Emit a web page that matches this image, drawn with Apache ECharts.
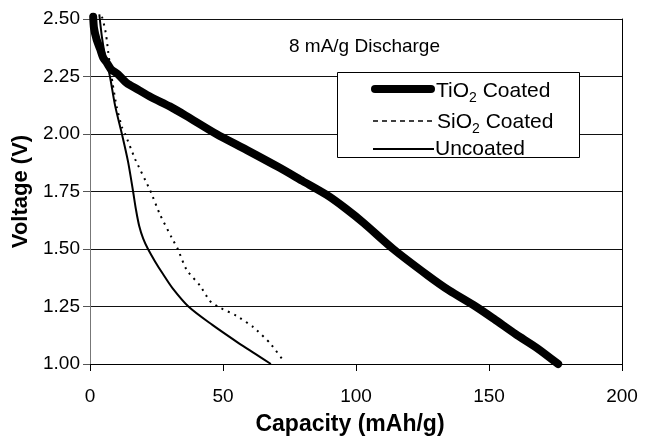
<!DOCTYPE html>
<html>
<head>
<meta charset="utf-8">
<script src="https://cdn.jsdelivr.net/npm/echarts@6/dist/echarts.min.js"></script>
<style>
html,body{margin:0;padding:0;background:#fff;}
#c{width:650px;height:441px;}
</style>
</head>
<body>
<div id="c"></div>
<script>
// ---- data ----
var xTicks = [0, 50, 100, 150, 200];
var yTicks = ['1.00', '1.25', '1.50', '1.75', '2.00', '2.25', '2.50'];

var tio2Cap = [1.2, 1.5, 2.5, 3.8, 5, 6.3, 8, 10.5, 14, 17, 23, 30, 36, 47.5, 59, 71, 80, 89, 96, 103, 114, 127, 135, 145, 152, 160, 168, 176];
var tio2V   = [2.51, 2.46, 2.41, 2.37, 2.33, 2.31, 2.28, 2.26, 2.22, 2.20, 2.16, 2.12, 2.08, 2.00, 1.93, 1.855, 1.795, 1.735, 1.677, 1.612, 1.50, 1.385, 1.32, 1.25, 1.195, 1.13, 1.07, 1.00];

var sio2Cap = [4.5, 5.6, 6.3, 6.8, 7.5, 8.5, 10, 12, 13.2, 17, 22.6, 26.3, 30.7, 33, 36.3, 41.4, 45, 48, 55, 61.4, 67.7, 73];
var sio2V   = [2.51, 2.46, 2.41, 2.36, 2.30, 2.22, 2.12, 2.03, 2.00, 1.89, 1.755, 1.65, 1.55, 1.50, 1.41, 1.34, 1.275, 1.25, 1.21, 1.16, 1.09, 1.01];

var uncCap = [3.5, 4.5, 5.5, 6.5, 7.5, 9.5, 12, 14.3, 16.2, 17.3, 18.5, 20, 21.8, 24.5, 27.5, 31, 37, 46, 56, 62, 68];
var uncV   = [2.52, 2.42, 2.35, 2.30, 2.25, 2.12, 2.00, 1.88, 1.75, 1.67, 1.60, 1.545, 1.50, 1.445, 1.39, 1.33, 1.25, 1.17, 1.09, 1.045, 1.00];

function pairs(xs, ys) { return xs.map(function (x, i) { return [x, ys[i]]; }); }

var FONT = '"Liberation Sans", Arial, sans-serif';
var chart = echarts.init(document.getElementById('c'), null, {renderer: 'canvas'});

var subRich = {
  a: {fontSize: 21, fontFamily: FONT, color: '#000', lineHeight: 22, verticalAlign: 'top'},
  s: {fontSize: 14, fontFamily: FONT, color: '#000', lineHeight: 35}
};

chart.setOption({
  animation: false,
  backgroundColor: '#fff',
  grid: {left: 90, top: 19, width: 532, height: 348, containLabel: false},
  xAxis: {
    type: 'value', min: 0, max: 200, interval: 50,
    name: 'Capacity (mAh/g)', nameLocation: 'middle', nameGap: 49,
    nameTextStyle: {fontFamily: FONT, fontSize: 23, fontWeight: 'bold', color: '#000', padding: [0, 12, 0, 0]},
    axisLine: {show: true, onZero: false, lineStyle: {color: '#000', width: 1}},
    axisTick: {show: true, length: 7, lineStyle: {color: '#000'}},
    axisLabel: {fontFamily: FONT, fontSize: 19, color: '#000', margin: 23,
      formatter: function (v) { return xTicks.indexOf(v) >= 0 ? String(v) : ''; }},
    splitLine: {show: false}
  },
  yAxis: [{
    type: 'value', min: 1, max: 2.5, interval: 0.25,
    name: 'Voltage (V)', nameLocation: 'middle', nameGap: 57,
    nameTextStyle: {fontFamily: FONT, fontSize: 22, fontWeight: 'bold', color: '#000'},
    axisLine: {show: true, onZero: false, lineStyle: {color: '#777', width: 1}},
    axisTick: {show: true, length: 7, lineStyle: {color: '#555'}},
    axisLabel: {fontFamily: FONT, fontSize: 19, color: '#000', margin: 10,
      formatter: function (v) { var s = v.toFixed(2); return yTicks.indexOf(s) >= 0 ? s : ''; }},
    splitLine: {show: true, lineStyle: {color: '#111', width: 1}}
  }, {
    type: 'value', min: 1, max: 2.5, interval: 0.25, position: 'right',
    axisLine: {show: true, onZero: false, lineStyle: {color: '#000', width: 1}},
    axisTick: {show: false}, axisLabel: {show: false}, splitLine: {show: false}
  }],
  series: [{
    name: 'TiO2 Coated', type: 'line', data: pairs(tio2Cap, tio2V), showSymbol: false, symbol: 'none',
    clip: false, smooth: 0.25, z: 2,
    lineStyle: {color: '#000', width: 8, cap: 'round', join: 'round'}
  }, {
    name: 'SiO2 Coated', type: 'line', data: pairs(sio2Cap, sio2V), showSymbol: false, symbol: 'none',
    clip: false, smooth: 0.2, z: 3,
    lineStyle: {color: '#000', width: 2, type: [2, 5]}
  }, {
    name: 'Uncoated', type: 'line', data: pairs(uncCap, uncV), showSymbol: false, symbol: 'none',
    clip: false, smooth: 0.3, z: 3,
    lineStyle: {color: '#000', width: 2}
  }],
  graphic: [
    {type: 'text', left: 289, top: 37, z: 10,
      style: {text: '8 mA/g Discharge', fontFamily: FONT, fontSize: 19, fill: '#000'}},
    {type: 'rect', z: 10, shape: {x: 337.5, y: 72.5, width: 242, height: 85},
      style: {fill: '#fff', stroke: '#000', lineWidth: 1}},
    {type: 'line', z: 11, shape: {x1: 375, y1: 89, x2: 431, y2: 89},
      style: {stroke: '#000', lineWidth: 8, lineCap: 'round'}},
    {type: 'line', z: 11, shape: {x1: 373, y1: 121, x2: 434, y2: 121},
      style: {stroke: '#000', lineWidth: 1.5, lineDash: [5, 4]}},
    {type: 'line', z: 11, shape: {x1: 373, y1: 149, x2: 434, y2: 149},
      style: {stroke: '#000', lineWidth: 2}},
    {type: 'text', z: 11, x: 436, y: 98,
      style: {text: '{a|TiO}{s|2}{a| Coated}', rich: subRich, verticalAlign: 'middle', align: 'left'}},
    {type: 'text', z: 11, x: 437, y: 129,
      style: {text: '{a|SiO}{s|2}{a| Coated}', rich: subRich, verticalAlign: 'middle', align: 'left'}},
    {type: 'text', z: 11, x: 435, y: 149,
      style: {text: 'Uncoated', fontFamily: FONT, fontSize: 21, fill: '#000', verticalAlign: 'middle', align: 'left'}}
  ]
});
</script>
</body>
</html>
